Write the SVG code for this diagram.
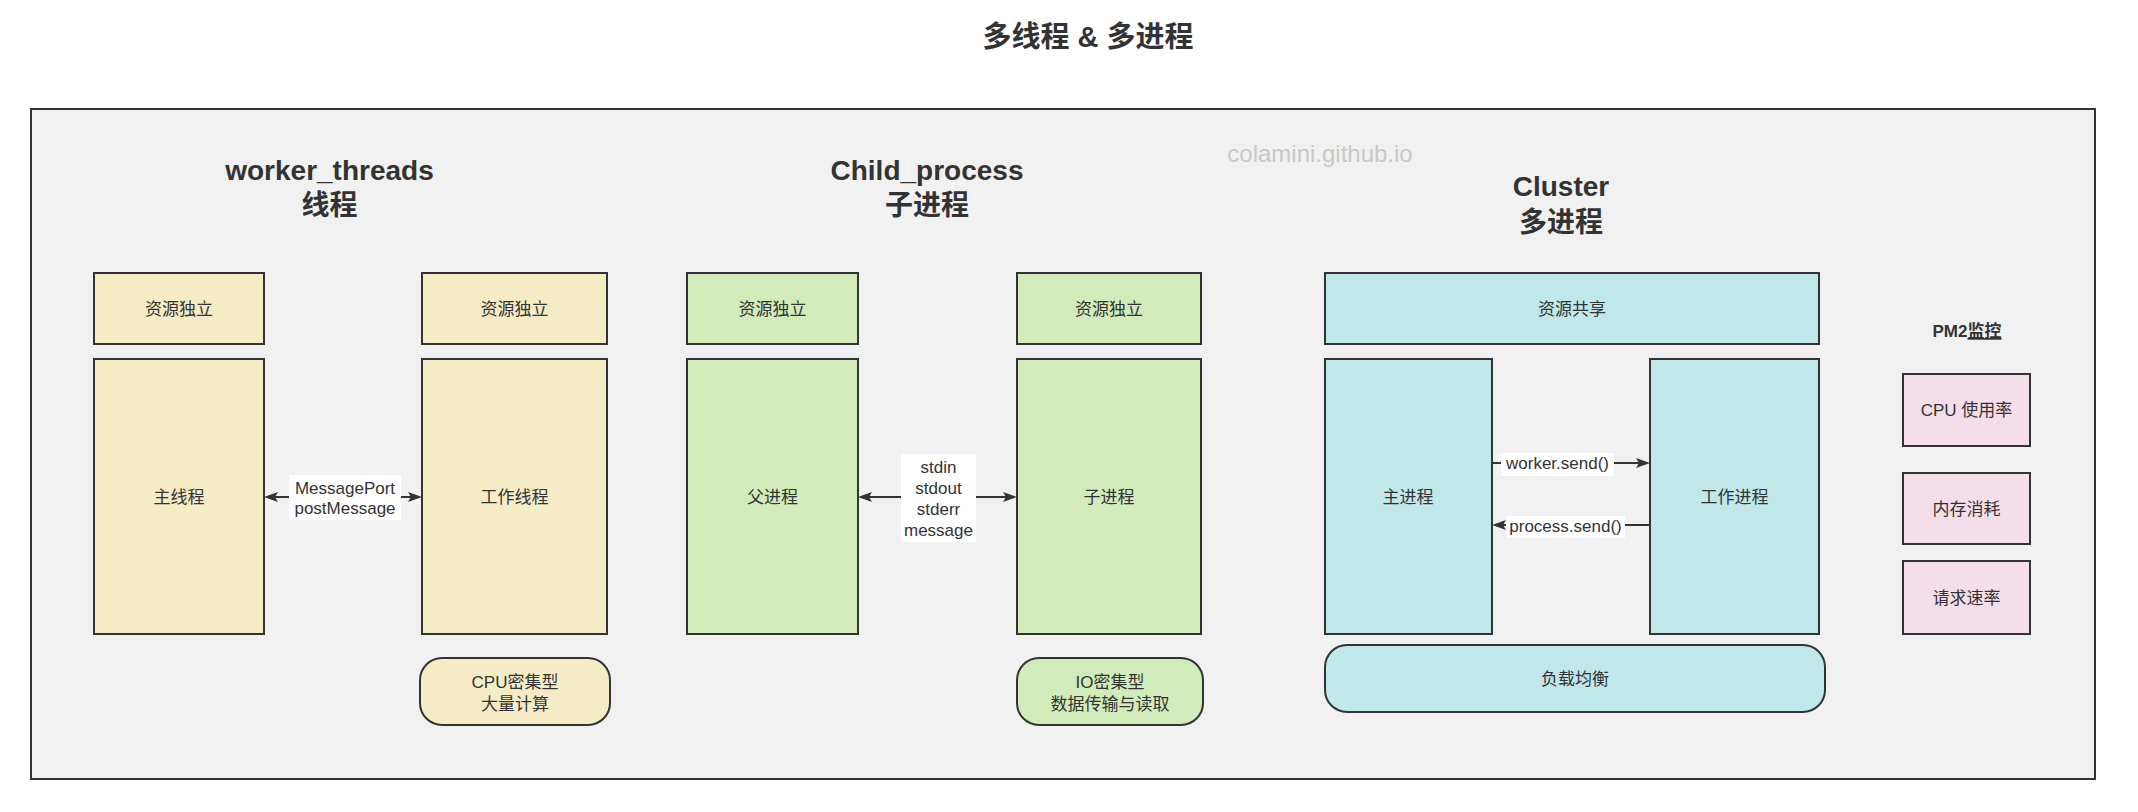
<svg xmlns="http://www.w3.org/2000/svg" width="2138" height="812" viewBox="0 0 2138 812">
<defs>
<style>
text{font-family:"Liberation Sans","Noto Sans CJK SC",sans-serif;fill:#333;}
.t{font-size:17px;text-anchor:middle;}
.h{font-size:28px;font-weight:bold;text-anchor:middle;}
.box{stroke:#333;stroke-width:2;}
.y{fill:#f5ecc6;}
.g{fill:#d1ebba;}
.c{fill:#c0e8ea;}
.p{fill:#f3deea;}
.edge{stroke:#333;stroke-width:2;fill:none;}
.lbl{fill:#fff;}
</style>
<marker id="arr" markerUnits="userSpaceOnUse" markerWidth="16" markerHeight="12" viewBox="0 0 16 12" refX="7" refY="6" orient="auto-start-reverse">
<path d="M1,1 L15,6 L1,11 L4,6 Z" fill="#333"/>
</marker>
</defs>
<rect width="2138" height="812" fill="#fff"/>
<text x="1088" y="47" style="font-size:29px;font-weight:bold;text-anchor:middle">多线程 &amp; 多进程</text>
<rect id="container" x="31" y="109" width="2064" height="670" fill="#f1f1f1" stroke="#333" stroke-width="2"/>
<text x="1320" y="162" style="font-size:24px;text-anchor:middle;fill:#c8c8c8">colamini.github.io</text>

<g id="h-worker"><text class="h" x="329.5" y="180">worker_threads</text><text class="h" x="329.5" y="215">线程</text></g>
<g id="h-child"><text class="h" x="927" y="180">Child_process</text><text class="h" x="927" y="215">子进程</text></g>
<g id="h-cluster"><text class="h" x="1561" y="196">Cluster</text><text class="h" x="1561" y="232">多进程</text></g>

<g id="wt-res1"><rect class="box y" x="94" y="273" width="170" height="71"/><text class="t" x="179" y="315">资源独立</text></g>
<g id="wt-res2"><rect class="box y" x="422" y="273" width="185" height="71"/><text class="t" x="514.5" y="315">资源独立</text></g>
<g id="wt-main"><rect class="box y" x="94" y="359" width="170" height="275"/><text class="t" x="179" y="503">主线程</text></g>
<g id="wt-worker"><rect class="box y" x="422" y="359" width="185" height="275"/><text class="t" x="514.5" y="503">工作线程</text></g>
<g id="wt-cpu"><rect class="box y" x="420" y="658" width="190" height="67" rx="22" ry="22"/><text class="t" x="515" y="688">CPU密集型</text><text class="t" x="515" y="710">大量计算</text></g>

<g id="cp-res1"><rect class="box g" x="687" y="273" width="171" height="71"/><text class="t" x="772.5" y="315">资源独立</text></g>
<g id="cp-res2"><rect class="box g" x="1017" y="273" width="184" height="71"/><text class="t" x="1109" y="315">资源独立</text></g>
<g id="cp-parent"><rect class="box g" x="687" y="359" width="171" height="275"/><text class="t" x="772.5" y="503">父进程</text></g>
<g id="cp-child"><rect class="box g" x="1017" y="359" width="184" height="275"/><text class="t" x="1109" y="503">子进程</text></g>
<g id="cp-io"><rect class="box g" x="1017" y="658" width="186" height="67" rx="22" ry="22"/><text class="t" x="1110" y="688">IO密集型</text><text class="t" x="1110" y="710">数据传输与读取</text></g>

<g id="cl-res"><rect class="box c" x="1325" y="273" width="494" height="71"/><text class="t" x="1572" y="315">资源共享</text></g>
<g id="cl-master"><rect class="box c" x="1325" y="359" width="167" height="275"/><text class="t" x="1408" y="503">主进程</text></g>
<g id="cl-worker"><rect class="box c" x="1650" y="359" width="169" height="275"/><text class="t" x="1734.5" y="503">工作进程</text></g>
<g id="cl-lb"><rect class="box c" x="1325" y="645" width="500" height="67" rx="22" ry="22"/><text class="t" x="1575" y="685">负载均衡</text></g>

<g id="pm2-title"><text x="1967" y="337" style="font-size:17px;font-weight:bold;text-anchor:middle">PM2<tspan text-decoration="underline">监控</tspan></text></g>
<g id="pm-cpu"><rect class="box p" x="1903" y="374" width="127" height="72"/><text class="t" x="1966.5" y="416">CPU 使用率</text></g>
<g id="pm-mem"><rect class="box p" x="1903" y="473" width="127" height="71"/><text class="t" x="1966.5" y="515">内存消耗</text></g>
<g id="pm-req"><rect class="box p" x="1903" y="561" width="127" height="73"/><text class="t" x="1966.5" y="604">请求速率</text></g>

<g id="connectors">
<g id="e-wt"><path class="edge" d="M272,497 L414,497" marker-start="url(#arr)" marker-end="url(#arr)"/><rect class="lbl" x="289" y="475" width="112" height="45"/><text class="t" x="345" y="494">MessagePort</text><text class="t" x="345" y="514">postMessage</text></g>
<g id="e-cp"><path class="edge" d="M866,497 L1009,497" marker-start="url(#arr)" marker-end="url(#arr)"/><rect class="lbl" x="901" y="454" width="75" height="88"/><text class="t" x="938.5" y="473">stdin</text><text class="t" x="938.5" y="494">stdout</text><text class="t" x="938.5" y="515">stderr</text><text class="t" x="938.5" y="535.5">message</text></g>
<g id="e-ws"><path class="edge" d="M1492,463 L1642,463" marker-end="url(#arr)"/><rect class="lbl" x="1501" y="453" width="113" height="23"/><text class="t" x="1557.5" y="469">worker.send()</text></g>
<g id="e-ps"><path class="edge" d="M1650,525 L1500,525" marker-end="url(#arr)"/><rect class="lbl" x="1506" y="516" width="119" height="22"/><text class="t" x="1565.5" y="531.5">process.send()</text></g>
</g>
</svg>
